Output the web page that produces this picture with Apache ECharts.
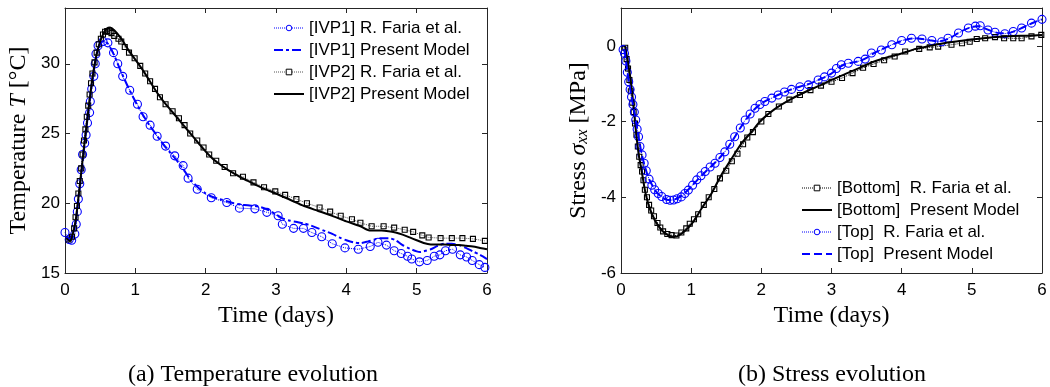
<!DOCTYPE html>
<html><head><meta charset="utf-8">
<script src="https://cdn.jsdelivr.net/npm/echarts@6/dist/echarts.min.js"></script>
<style>html,body{margin:0;padding:0;background:#fff}#c{width:1050px;height:387px}</style>
</head><body><div id="c"></div>
<script>
// ---------------- data ----------------
const xTicks = [0, 1, 2, 3, 4, 5, 6];
const tempTicks = [15, 20, 25, 30];
const stressTicks = [-6, -4, -2, 0];

// (a) Temperature: IVP1 R. Faria et al. (circles)
const tIVP1F = [0.0,0.06,0.095,0.14,0.16,0.175,0.19,0.21,0.23,0.25,0.28,0.3,0.32,0.35,0.36,0.38,0.41,0.43,0.44,0.47,0.54,0.61,0.69,0.75,0.82,0.92,1.03,1.11,1.21,1.31,1.43,1.56,1.68,1.75,1.88,2.08,2.3,2.48,2.7,2.87,3.03,3.09,3.25,3.39,3.51,3.65,3.8,3.98,4.17,4.34,4.45,4.57,4.68,4.78,4.87,4.93,5.04,5.15,5.25,5.33,5.41,5.51,5.62,5.71,5.79,5.89,5.97];
const TIVP1F = [17.9,17.4,17.35,17.8,18.5,19.4,20.3,21.4,22.4,23.5,24.3,24.9,25.75,26.5,27.3,28.2,29.1,30.0,30.7,31.3,31.6,31.5,30.8,30.0,29.1,28.1,27.1,26.2,25.6,24.8,24.1,23.4,22.7,21.8,21.0,20.4,20.05,19.65,19.6,19.35,19.1,18.5,18.2,18.2,17.9,17.6,17.1,16.8,16.7,16.9,17.2,17.0,16.6,16.4,16.2,16.0,15.8,15.9,16.2,16.3,16.6,16.7,16.3,16.15,15.9,15.6,15.4];
// IVP1 Present Model
const tIVP1M = [0.02,0.06,0.1,0.15,0.2,0.25,0.3,0.35,0.4,0.45,0.5,0.55,0.6,0.65,0.7,0.8,0.9,1.0,1.1,1.2,1.3,1.4,1.5,1.6,1.7,1.8,1.9,2.0,2.1,2.2,2.3,2.4,2.5,2.6,2.7,2.8,2.9,3.0,3.1,3.2,3.3,3.4,3.5,3.6,3.7,3.8,3.9,4.0,4.1,4.2,4.3,4.4,4.5,4.6,4.7,4.8,4.9,5.0,5.05,5.1,5.2,5.3,5.4,5.5,5.6,5.7,5.8,5.9,6.0];
const TIVP1M = [17.6,17.45,17.6,18.6,20.6,22.9,25.2,27.3,29.2,30.6,31.4,31.65,31.5,31.1,30.6,29.4,28.3,27.3,26.4,25.6,24.9,24.2,23.6,23.0,22.3,21.6,21.1,20.7,20.45,20.3,20.15,20.0,19.9,19.85,19.8,19.7,19.5,19.2,18.9,18.75,18.65,18.55,18.4,18.2,18.0,17.8,17.55,17.35,17.2,17.15,17.25,17.4,17.5,17.5,17.35,17.0,16.75,16.55,16.5,16.55,16.7,16.95,17.1,17.1,17.0,16.8,16.55,16.3,16.0];
// IVP2 R. Faria et al. (squares)
const tIVP2F = [0.05,0.1,0.13,0.15,0.17,0.19,0.21,0.23,0.25,0.27,0.29,0.31,0.33,0.35,0.37,0.39,0.42,0.45,0.48,0.51,0.54,0.57,0.6,0.63,0.66,0.7,0.76,0.8,0.85,0.91,0.99,1.07,1.14,1.21,1.28,1.35,1.43,1.53,1.62,1.7,1.78,1.88,1.97,2.05,2.15,2.27,2.39,2.53,2.68,2.83,2.99,3.13,3.29,3.44,3.62,3.77,3.92,4.08,4.2,4.36,4.53,4.68,4.83,4.95,5.08,5.17,5.34,5.5,5.65,5.8,5.97];
const TIVP2F = [17.4,17.6,18.2,19.0,19.8,20.7,21.6,22.5,23.5,24.5,25.3,26.2,27.0,27.8,28.6,29.3,30.1,30.8,31.4,31.8,32.1,32.3,32.35,32.3,32.2,32.0,31.8,31.6,31.2,30.8,30.4,29.85,29.3,28.75,28.2,27.6,27.1,26.6,26.1,25.6,25.0,24.5,24.0,23.5,23.05,22.6,22.15,21.9,21.5,21.15,20.85,20.6,20.3,20.0,19.7,19.4,19.1,18.85,18.6,18.35,18.35,18.25,18.1,17.95,17.7,17.55,17.5,17.5,17.5,17.45,17.3];
// IVP2 Present Model
const tIVP2M = [0.02,0.07,0.1,0.15,0.2,0.25,0.3,0.35,0.4,0.45,0.5,0.55,0.6,0.64,0.7,0.8,0.9,1.0,1.1,1.2,1.3,1.4,1.5,1.6,1.7,1.8,1.9,2.0,2.1,2.2,2.3,2.4,2.5,2.6,2.7,2.8,2.9,3.0,3.2,3.4,3.6,3.8,4.0,4.2,4.33,4.5,4.6,4.7,4.8,4.9,5.0,5.1,5.2,5.3,5.4,5.5,5.6,5.7,5.8,5.9,6.0];
const TIVP2M = [17.5,17.3,17.6,18.7,20.8,23.1,25.3,27.4,29.3,30.7,31.6,32.2,32.55,32.6,32.4,31.8,31.0,30.3,29.6,28.8,28.0,27.3,26.7,26.1,25.5,24.9,24.3,23.7,23.2,22.8,22.45,22.15,21.85,21.6,21.35,21.1,20.9,20.7,20.25,19.8,19.45,19.1,18.7,18.35,18.05,18.05,18.0,17.9,17.75,17.55,17.35,17.15,17.05,17.05,17.05,17.0,17.0,16.95,16.9,16.8,16.7];

// (b) Stress: Bottom R. Faria et al. (squares)
const tBotF = [0.06,0.08,0.1,0.12,0.14,0.16,0.18,0.2,0.22,0.24,0.26,0.28,0.3,0.32,0.34,0.37,0.4,0.43,0.47,0.52,0.56,0.6,0.66,0.72,0.79,0.86,0.93,0.98,1.04,1.1,1.18,1.25,1.33,1.41,1.5,1.58,1.66,1.74,1.8,1.88,2.0,2.1,2.25,2.4,2.55,2.7,2.85,3.0,3.15,3.3,3.45,3.6,3.75,3.9,4.05,4.25,4.4,4.52,4.71,4.86,4.97,5.07,5.19,5.33,5.46,5.59,5.71,5.85,5.99];
const sBotF = [-0.05,-0.35,-0.6,-0.9,-1.2,-1.5,-1.75,-2.05,-2.35,-2.66,-2.93,-3.15,-3.32,-3.55,-3.8,-4.0,-4.2,-4.35,-4.5,-4.68,-4.8,-4.9,-4.97,-5.0,-5.01,-4.93,-4.82,-4.7,-4.58,-4.45,-4.2,-4.0,-3.78,-3.5,-3.3,-3.05,-2.85,-2.6,-2.42,-2.28,-2.0,-1.8,-1.6,-1.42,-1.3,-1.17,-1.05,-0.95,-0.85,-0.72,-0.58,-0.48,-0.38,-0.28,-0.15,-0.08,-0.04,-0.02,0.03,0.07,0.11,0.18,0.2,0.23,0.2,0.2,0.2,0.25,0.29];
// Bottom Present Model
const tBotM = [0.057,0.1,0.13,0.18,0.21,0.25,0.3,0.35,0.41,0.48,0.58,0.67,0.75,0.8,0.91,1.03,1.15,1.29,1.43,1.58,1.72,1.86,2.0,2.19,2.43,2.67,2.9,3.0,3.2,3.4,3.6,3.8,4.0,4.2,4.4,4.6,4.8,5.0,5.2,5.4,5.6,5.8,6.0];
const sBotM = [0.0,-0.45,-0.8,-1.6,-2.2,-2.84,-3.37,-3.9,-4.3,-4.6,-4.87,-5.0,-5.04,-5.03,-4.89,-4.65,-4.29,-3.9,-3.41,-2.97,-2.57,-2.27,-1.96,-1.67,-1.4,-1.18,-0.99,-0.9,-0.74,-0.58,-0.42,-0.3,-0.2,-0.08,0.0,0.07,0.12,0.17,0.21,0.24,0.26,0.27,0.29];
// Top R. Faria et al. (circles)
const tTopF = [0.03,0.05,0.07,0.09,0.11,0.13,0.15,0.17,0.19,0.21,0.23,0.25,0.27,0.3,0.33,0.36,0.4,0.44,0.48,0.53,0.58,0.65,0.7,0.75,0.8,0.86,0.91,0.96,1.02,1.08,1.14,1.2,1.27,1.34,1.41,1.48,1.55,1.62,1.7,1.77,1.84,1.91,1.98,2.05,2.15,2.24,2.33,2.43,2.55,2.67,2.81,2.9,3.0,3.07,3.14,3.24,3.38,3.48,3.57,3.71,3.86,4.0,4.14,4.29,4.43,4.57,4.66,4.81,4.95,5.05,5.12,5.23,5.33,5.47,5.59,5.71,5.85,6.0];
const sTopF = [-0.1,-0.2,-0.4,-0.7,-0.95,-1.15,-1.35,-1.55,-1.75,-1.96,-2.2,-2.4,-2.66,-2.88,-3.1,-3.3,-3.52,-3.68,-3.8,-3.9,-3.98,-4.06,-4.08,-4.07,-4.04,-3.99,-3.9,-3.81,-3.68,-3.54,-3.43,-3.32,-3.2,-3.1,-2.95,-2.8,-2.6,-2.4,-2.17,-1.96,-1.8,-1.65,-1.55,-1.47,-1.38,-1.3,-1.22,-1.15,-1.08,-1.03,-0.9,-0.82,-0.72,-0.6,-0.5,-0.46,-0.41,-0.35,-0.19,-0.11,0.03,0.14,0.2,0.18,0.14,0.11,0.2,0.34,0.47,0.52,0.53,0.42,0.36,0.32,0.38,0.47,0.6,0.7];
// Top Present Model
const tTopM = [0.05,0.1,0.15,0.2,0.25,0.3,0.35,0.4,0.5,0.6,0.7,0.8,0.9,1.0,1.1,1.2,1.3,1.4,1.5,1.6,1.7,1.8,1.9,2.0,2.1,2.2,2.3,2.4,2.5,2.6,2.7,2.8,2.9,3.0,3.1,3.2,3.3,3.4,3.5,3.6,3.7,3.8,3.9,4.0,4.1,4.2,4.3,4.4,4.5,4.6,4.7,4.8,4.9,5.0,5.1,5.2,5.3,5.4,5.5,5.6,5.7,5.8,5.9,6.0];
const sTopM = [-0.1,-0.8,-1.35,-1.85,-2.4,-2.9,-3.25,-3.52,-3.85,-4.02,-4.08,-4.03,-3.9,-3.72,-3.52,-3.33,-3.16,-2.97,-2.75,-2.47,-2.17,-1.9,-1.68,-1.52,-1.42,-1.33,-1.25,-1.17,-1.1,-1.05,-0.99,-0.91,-0.83,-0.73,-0.58,-0.48,-0.44,-0.4,-0.32,-0.2,-0.1,-0.02,0.06,0.13,0.18,0.2,0.18,0.15,0.12,0.14,0.22,0.33,0.43,0.5,0.52,0.45,0.38,0.33,0.33,0.38,0.46,0.55,0.63,0.7];

// ---------------- chart ----------------
const zip = (t, v) => t.map((x, i) => [x, v[i]]);
const AX = '#262626';
const SANS = 'Liberation Sans';
const SERIF = 'Liberation Serif';
const BLUE = '#0000ff';
const NONE = 'rgba(0,0,0,0)';

function xAx(grid, top, name) {
  return {
    type: 'value', gridIndex: grid, position: top ? 'top' : 'bottom',
    min: 0, max: 6, interval: 1,
    axisLine: { show: true, onZero: false, lineStyle: { color: AX, width: 1 } },
    axisTick: { show: true, inside: true, length: 5, lineStyle: { color: AX } },
    axisLabel: { show: !top, margin: 9, fontFamily: SANS, fontSize: 17, color: '#000',
      formatter: v => xTicks.includes(v) ? String(v) : '' },
    splitLine: { show: false },
    name: top ? '' : name, nameLocation: 'middle', nameGap: 31,
    nameTextStyle: { fontFamily: SERIF, fontSize: 24, color: '#000' }
  };
}
function yAx(grid, right, mn, mx, iv, ticks, name, rich, gap) {
  return {
    type: 'value', gridIndex: grid, position: right ? 'right' : 'left',
    min: mn, max: mx, interval: iv,
    axisLine: { show: true, onZero: false, lineStyle: { color: AX, width: 1 } },
    axisTick: { show: true, inside: true, length: 5, lineStyle: { color: AX } },
    axisLabel: { show: !right, margin: 5, fontFamily: SANS, fontSize: 17, color: '#000',
      showMaxLabel: false,
      formatter: v => ticks.includes(v) ? String(v) : '' },
    splitLine: { show: false },
    name: right ? '' : name, nameLocation: 'middle', nameGap: gap, nameRotate: 90,
    nameTextStyle: { fontFamily: SERIF, fontSize: 24, color: '#000', rich: rich }
  };
}

const richT = {
  r: { fontFamily: SERIF, fontSize: 24, color: '#000' },
  i: { fontFamily: SERIF, fontSize: 24, fontStyle: 'italic', color: '#000' }
};
const richS = {
  r: { fontFamily: SERIF, fontSize: 24, color: '#000' },
  i: { fontFamily: SERIF, fontSize: 24, fontStyle: 'italic', color: '#000' },
  s: { fontFamily: SERIF, fontSize: 16, fontStyle: 'italic', color: '#000', padding: [9, 0, 0, 0] }
};

function faria(name, xi, data, sym, size, color, lineColor) {
  return { name, type: 'line', xAxisIndex: xi, yAxisIndex: xi, data,
    symbol: sym, symbolSize: size, showAllSymbol: true,
    lineStyle: { type: 'dotted', width: 1, color: lineColor },
    itemStyle: { color: NONE, borderColor: color, borderWidth: 1.1 },
    emphasis: { disabled: true }, z: 3 };
}
function model(name, xi, data, type, color) {
  return { name, type: 'line', xAxisIndex: xi, yAxisIndex: xi, data,
    symbol: 'circle', showSymbol: false, smooth: 0.25,
    lineStyle: { type: type, width: 2, color: color },
    itemStyle: { color: color, opacity: 0 },
    emphasis: { disabled: true }, z: 4 };
}

const legendText = { fontFamily: SANS, fontSize: 17, color: '#000', lineHeight: 20 };
const legFaria = (name, color, lineColor) => ({ name,
  itemStyle: { color: '#fff', borderColor: color, borderWidth: 1, opacity: 1 },
  lineStyle: { width: 1, color: lineColor, type: 'dotted' } });
const legModel = (name, color, type) => ({ name,
  itemStyle: { opacity: 0, borderWidth: 0 },
  lineStyle: { width: 2, color: color, type: type } });

const option = {
  animation: false,
  backgroundColor: '#fff',
  grid: [
    { left: 65, top: 8, width: 422, height: 265, containLabel: false },
    { left: 621, top: 8, width: 421, height: 265, containLabel: false }
  ],
  xAxis: [xAx(0, false, 'Time (days)'), xAx(0, true), xAx(1, false, 'Time (days)'), xAx(1, true)],
  yAxis: [
    yAx(0, false, 15, 34, 5, tempTicks, '{r|Temperature }{i|T}{r| [°C]}', richT, 34),
    yAx(0, true, 15, 34, 5, tempTicks, '', richT, 0),
    yAx(1, false, -6, 1, 2, stressTicks, '{r|Stress }{i|σ}{s|xx}{r| [MPa]}', richS, 30),
    yAx(1, true, -6, 1, 2, stressTicks, '', richS, 0)
  ],
  legend: [
    { orient: 'vertical', left: 273, top: 18, itemWidth: 30, itemHeight: 7, itemGap: 2,
      textStyle: legendText, backgroundColor: 'transparent', padding: 0,
      data: [legFaria('[IVP1] R. Faria et al.', BLUE, BLUE), legModel('[IVP1] Present Model', BLUE, [9, 3, 3, 3]),
             legFaria('[IVP2] R. Faria et al.', '#000', '#555'), legModel('[IVP2] Present Model', '#000', 'solid')] },
    { orient: 'vertical', left: 801, top: 178, itemWidth: 30, itemHeight: 7, itemGap: 2,
      textStyle: legendText, backgroundColor: 'transparent', padding: 0,
      data: [legFaria('[Bottom]  R. Faria et al.', '#000', '#000'), legModel('[Bottom]  Present Model', '#000', 'solid'),
             legFaria('[Top]  R. Faria et al.', BLUE, BLUE), legModel('[Top]  Present Model', BLUE, [8, 4])] }
  ],
  graphic: [
    { type: 'text', x: 253, y: 375, style: { text: '(a) Temperature evolution', font: '24px "Liberation Serif"', fill: '#000', textAlign: 'center', textVerticalAlign: 'middle' } },
    { type: 'text', x: 832, y: 375, style: { text: '(b) Stress evolution', font: '24px "Liberation Serif"', fill: '#000', textAlign: 'center', textVerticalAlign: 'middle' } }
  ],
  series: [
    faria('[IVP1] R. Faria et al.', 0, zip(tIVP1F, TIVP1F), 'circle', 8, BLUE, BLUE),
    model('[IVP1] Present Model', 0, zip(tIVP1M, TIVP1M), [9, 3, 3, 3], BLUE),
    faria('[IVP2] R. Faria et al.', 0, zip(tIVP2F, TIVP2F), 'rect', 5, '#000', '#555'),
    model('[IVP2] Present Model', 0, zip(tIVP2M, TIVP2M), 'solid', '#000'),
    faria('[Bottom]  R. Faria et al.', 2, zip(tBotF, sBotF), 'rect', 5, '#000', '#000'),
    model('[Bottom]  Present Model', 2, zip(tBotM, sBotM), 'solid', '#000'),
    faria('[Top]  R. Faria et al.', 2, zip(tTopF, sTopF), 'circle', 8, BLUE, BLUE),
    model('[Top]  Present Model', 2, zip(tTopM, sTopM), [8, 4], BLUE)
  ]
};
const chart = echarts.init(document.getElementById('c'), null, { renderer: 'canvas' });
chart.setOption(option);
</script>
</body></html>
